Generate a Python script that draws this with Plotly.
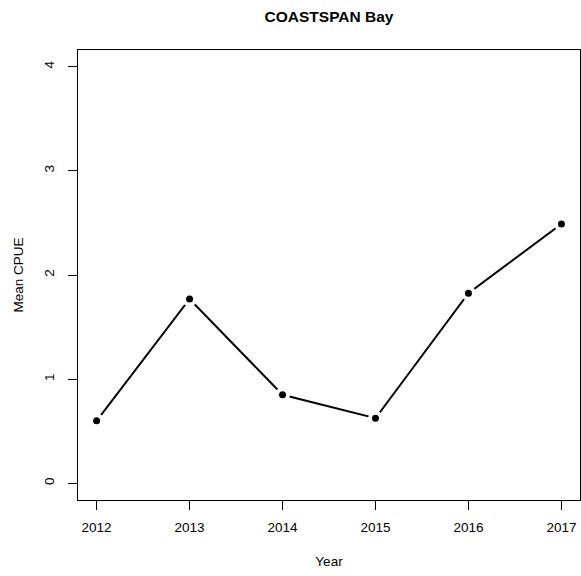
import plotly.graph_objects as go

years = [2012, 2013, 2014, 2015, 2016, 2017]
cpue = [0.60, 1.77, 0.85, 0.625, 1.825, 2.49]
y_ticks = [0, 1, 2, 3, 4]

FONT = "Liberation Sans, Arial, Helvetica, sans-serif"

fig = go.Figure()
# connecting line
fig.add_trace(go.Scatter(x=years, y=cpue, mode="lines",
                         line=dict(color="black", width=2), hoverinfo="skip"))
# white halo to create R type="b" gaps
fig.add_trace(go.Scatter(x=years, y=cpue, mode="markers",
                         marker=dict(color="white", size=15, line=dict(width=0)),
                         hoverinfo="skip"))
# points
fig.add_trace(go.Scatter(x=years, y=cpue, mode="markers",
                         marker=dict(color="black", size=7, line=dict(width=0))))

fig.update_layout(
    width=581, height=576,
    margin=dict(l=78, r=1, t=50, b=76),
    paper_bgcolor="white", plot_bgcolor="white",
    showlegend=False,
    font=dict(family=FONT, size=13.5, color="black"),
    title=dict(text="<b>COASTSPAN Bay</b>", x=(78 + 580) / 2 / 581, xanchor="center",
               y=1 - 17 / 576, yanchor="middle", font=dict(size=15.5, color="black")),
)
fig.update_xaxes(
    range=[2012 - 0.2, 2017 + 0.2], tickvals=years, ticktext=[str(y) for y in years],
    showgrid=False, zeroline=False, showline=True, linecolor="black", linewidth=1,
    mirror=True, ticks="outside", ticklen=9, tickcolor="black", tickwidth=1,
    ticklabelstandoff=6,
    title=dict(text="Year", standoff=22, font=dict(size=13.5)),
)
fig.update_yaxes(
    range=[-0.16, 4.16], tickvals=y_ticks, ticktext=[str(v) for v in y_ticks],
    showgrid=False, zeroline=False, showline=True, linecolor="black", linewidth=1,
    mirror=True, ticks="outside", ticklen=9, tickcolor="black", tickwidth=1,
    tickangle=-90, ticklabelstandoff=9,
    title=dict(text="Mean CPUE", standoff=14, font=dict(size=13.5)),
)

fig.write_html("out.html")
